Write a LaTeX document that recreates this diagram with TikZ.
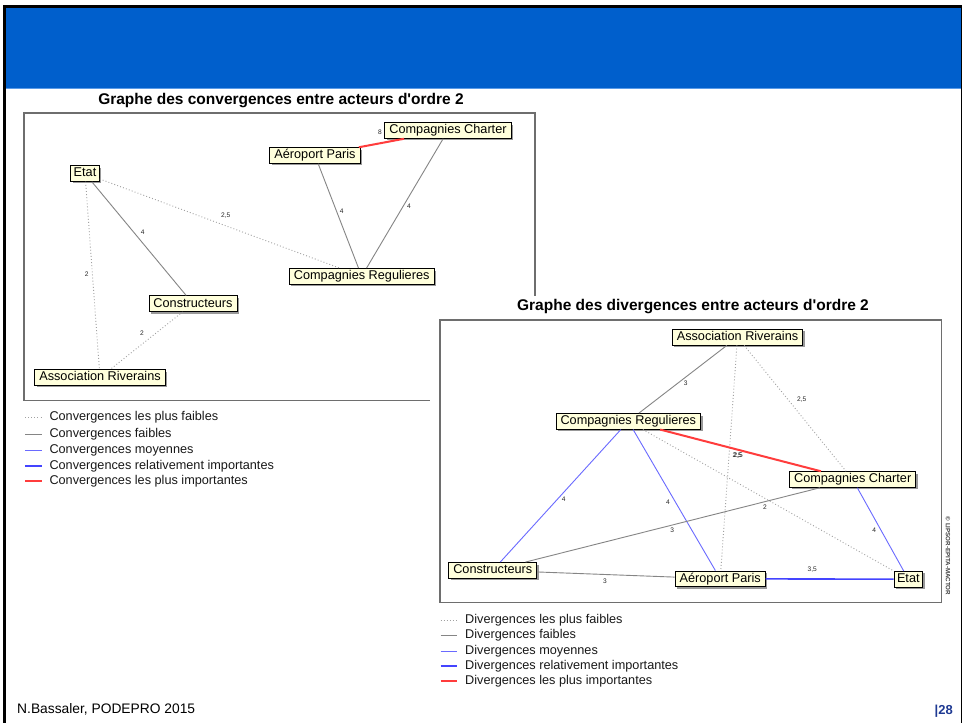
\documentclass[tikz,border=0pt]{standalone}
\usepackage{fontspec}
\setmainfont{Liberation Sans}
\usetikzlibrary{shadows}

\definecolor{slideblue}{HTML}{005FCC}
\definecolor{bluerule}{HTML}{5A9BE8}
\definecolor{framegrey}{HTML}{6E6E6E}
\definecolor{boxfill}{HTML}{FFFFDC}
\definecolor{edgegrey}{HTML}{858585}
\definecolor{dotgrey}{HTML}{A0A0A0}
\definecolor{midblue}{HTML}{6A6AFF}
\definecolor{strongblue}{HTML}{4444FF}
\definecolor{topred}{HTML}{FF3C3C}
\definecolor{pagenum}{HTML}{1F3A93}

\tikzset{
  actor/.style={draw=black, line width=0.9pt, fill=boxfill,
    font=\fontsize{12.7}{14}\selectfont, inner xsep=4.5pt, inner ysep=0pt,
    text height=9.6pt, text depth=3pt, minimum height=15.6pt,
    drop shadow={shadow xshift=2pt, shadow yshift=-2pt, opacity=.4, fill=black}},
  wlbl/.style={font=\fontsize{6.6}{7.5}\selectfont, text=black!85, inner sep=0pt},
  weakest/.style={dotgrey, line width=0.9pt, dash pattern=on 0.9pt off 2.2pt},
  weak/.style={edgegrey, line width=0.9pt},
  medium/.style={midblue, line width=0.9pt},
  strong/.style={strongblue, line width=1.6pt},
  strongest/.style={topred, line width=2pt},
  legtext/.style={anchor=west, font=\fontsize{12.7}{14}\selectfont, text=black!90, inner sep=0pt},
  graphtitle/.style={font=\bfseries\fontsize{15.5}{18}\selectfont, inner sep=0pt},
  panelframe/.style={draw=framegrey, line width=1.2pt},
}

\begin{document}
\begin{tikzpicture}[x=1pt, y=-1pt]
\useasboundingbox (0,0) rectangle (962,723);

% slide background, frame and banner
\fill[white] (0,0) rectangle (962,723);
\fill[black] (3,5) rectangle (962,8.3);
\fill[black] (3,5) rectangle (6,723);
\fill[black] (960.7,5) rectangle (962,723);
\fill[slideblue] (6,8.3) rectangle (960.7,87.7);
\fill[bluerule] (6,87.7) rectangle (960.7,88.7);

% panels
\draw[panelframe] (24,113) rectangle (535,400.5);
\fill[white] (430,296) rectangle (952,612);
\draw[panelframe] (440,320) rectangle (941.7,602.7);

\node[graphtitle] (ctitle) at (281,101) {Graphe des convergences entre acteurs d\textquotesingle ordre 2};
\node[graphtitle] (dtitle) at (693,307) {Graphe des divergences entre acteurs d\textquotesingle ordre 2};

% ---------- convergence graph ----------
\node[actor] (lchar)  at (448,130.5)   {Compagnies Charter};
\node[actor] (laer)   at (315,155.5)   {Aéroport Paris};
\node[actor, inner xsep=3pt] (letat) at (85,173.5) {Etat};
\node[actor] (lreg)   at (361.7,276.3) {Compagnies Regulieres};
\node[actor] (lcons)  at (193,303.7)   {Constructeurs};
\node[actor] (lassoc) at (100,377.5)   {Association Riverains};

\draw[strongest] (laer) -- (lchar);
\draw[weak]      (laer) -- (lreg);
\draw[weak]      (lchar) -- (lreg);
\draw[weakest]   (letat) -- (lreg);
\draw[weak]      (letat) -- (lcons);
\draw[weakest]   (letat) -- (lassoc);
\draw[weakest]   (lcons) -- (lassoc);

\node[wlbl] (cw1) at (380,132.7)   {8};
\node[wlbl] (cw2) at (341.7,211.7) {4};
\node[wlbl] (cw3) at (409,206)     {4};
\node[wlbl] (cw4) at (225.7,215.7) {2,5};
\node[wlbl] (cw5) at (142.7,232.3) {4};
\node[wlbl] (cw6) at (86.7,274)    {2};
\node[wlbl] (cw7) at (142,332.7)   {2};

% legend of the convergence graph
\draw[weakest]   (25,417.3) -- (41.7,417.3);
\draw[weak]      (25,434)   -- (41.7,434);
\draw[medium]    (25,450)   -- (41.7,450);
\draw[strong]    (25,466)   -- (41.7,466);
\draw[strongest] (25,481)   -- (41.7,481);
\node[legtext] (cl1) at (49.3,417.3) {Convergences les plus faibles};
\node[legtext] (cl2) at (49.3,434)   {Convergences faibles};
\node[legtext] (cl3) at (49.3,450)   {Convergences moyennes};
\node[legtext] (cl4) at (49.3,466)   {Convergences relativement importantes};
\node[legtext] (cl5) at (49.3,481)   {Convergences les plus importantes};

% ---------- divergence graph ----------
\node[actor] (rassoc) at (737.5,337.2) {Association Riverains};
\node[actor] (rreg)   at (628.3,421.3) {Compagnies Regulieres};
\node[actor] (rchar)  at (852.7,479.5) {Compagnies Charter};
\node[actor] (rcons)  at (492.8,570.3) {Constructeurs};
\node[actor] (raer)   at (720.2,578.8) {Aéroport Paris};
\node[actor, inner xsep=3pt] (retat) at (908.3,579.2) {Etat};

\draw[weak]      (rassoc) -- (rreg);
\draw[weakest]   (rassoc) -- (raer);
\draw[weakest]   (rassoc) -- (rchar);
\draw[strongest] (rreg) -- (rchar);
\draw[medium]    (rreg) -- (rcons);
\draw[medium]    (rreg) -- (raer);
\draw[weakest]   (rreg) -- (retat);
\draw[weak]      (rchar) -- (rcons);
\draw[medium]    (rchar) -- (retat);
\draw[weak]      (rcons) -- (raer);
\draw[strong]    (raer) -- (retat);

\node[wlbl] (dw1)  at (685.7,383.3) {3};
\node[wlbl] (dw2)  at (801.7,400)   {2,5};
\node[wlbl] (dw3)  at (737.2,455.7) {2,5};
\node[wlbl] (dw4)  at (738.2,455.9) {2,5};
\node[wlbl] (dw5)  at (563.7,499)   {4};
\node[wlbl] (dw6)  at (668,502.3)   {4};
\node[wlbl] (dw7)  at (765,506.7)   {2};
\node[wlbl] (dw8)  at (672.3,530.7) {3};
\node[wlbl] (dw9)  at (874.3,530.7) {4};
\node[wlbl] (dw10) at (812.3,569.3) {3,5};
\node[wlbl] (dw11) at (605,581)     {3};

\node[rotate=-90, font=\bfseries\fontsize{6.2}{7}\selectfont, text=black!75, inner sep=0pt] (copy) at (948,556) {© LIPSOR-EPITA-MACTOR};

% legend of the divergence graph
\draw[weakest]   (440.5,620)   -- (456.7,620);
\draw[weak]      (440.5,635)   -- (456.7,635);
\draw[medium]    (440.5,651.7) -- (456.7,651.7);
\draw[strong]    (440.5,666)   -- (456.7,666);
\draw[strongest] (440.5,681)   -- (456.7,681);
\node[legtext] (dl1) at (465,620)   {Divergences les plus faibles};
\node[legtext] (dl2) at (465,635)   {Divergences faibles};
\node[legtext] (dl3) at (465,651.7) {Divergences moyennes};
\node[legtext] (dl4) at (465,666)   {Divergences relativement importantes};
\node[legtext] (dl5) at (465,681)   {Divergences les plus importantes};

% footer
\node[anchor=west, inner sep=0pt, font=\fontsize{13.8}{16}\selectfont] (footer) at (17,709) {N.Bassaler, PODEPRO 2015};
\node[anchor=east, inner sep=0pt, font=\bfseries\fontsize{13}{15}\selectfont, text=pagenum] (pnum) at (953,711) {|28};
\end{tikzpicture}
\end{document}
